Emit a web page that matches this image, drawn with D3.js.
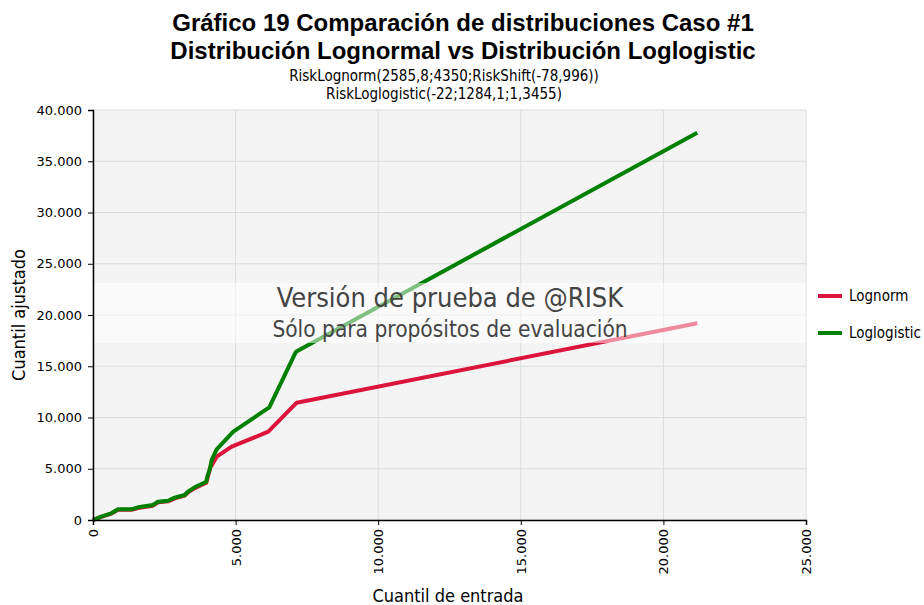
<!DOCTYPE html>
<html><head><meta charset="utf-8">
<script src="https://cdn.jsdelivr.net/npm/d3@7"></script>
<style>body{margin:0;background:#fff}</style>
</head><body>
<script>
const titleLines = ["Gráfico 19 Comparación de distribuciones Caso #1", "Distribución Lognormal vs Distribución Loglogistic"];
const subtitleLines = ["RiskLognorm(2585,8;4350;RiskShift(-78,996))", "RiskLoglogistic(-22;1284,1;1,3455)"];
const xTicks = [0, 5000, 10000, 15000, 20000, 25000];
const yTicks = [0, 5000, 10000, 15000, 20000, 25000, 30000, 35000, 40000];
const seriesNames = ["Lognorm", "Loglogistic"];
const seriesColors = ["#dc143c", "#008000"];
const lognormX = [0, 291, 642, 877, 1343, 1578, 2104, 2279, 2630, 2864, 3215, 3331, 3566, 3972, 4102, 4337, 4863, 6146, 7142, 21187];
const lognormY = [0, 300, 620, 1000, 990, 1170, 1400, 1720, 1820, 2110, 2380, 2700, 3110, 3640, 5044, 6176, 7151, 8615, 11444, 19190];
const loglogX = [0, 291, 642, 877, 1343, 1578, 2104, 2279, 2630, 2864, 3215, 3331, 3566, 3972, 4007, 4091, 4161, 4337, 4919, 6181, 7117, 21187];
const loglogY = [0, 322, 654, 1044, 1044, 1239, 1463, 1785, 1883, 2176, 2439, 2761, 3190, 3737, 4224, 4878, 5854, 6897, 8615, 10995, 16420, 37785];

const W = 924, H = 605;
const m = {l: 93, r: 806, t: 110, b: 520};
const svg = d3.select("body").append("svg").attr("width", W).attr("height", H);
const x = d3.scaleLinear().domain([0, 25000]).range([m.l, m.r]);
const y = d3.scaleLinear().domain([0, 40000]).range([m.b, m.t]);
const fmt = d => d3.format(",")(d).replace(/,/g, ".");

// plot background
svg.append("rect").attr("x", m.l).attr("y", m.t).attr("width", m.r - m.l).attr("height", m.b - m.t).attr("fill", "#f4f4f4");
// gridlines
svg.append("g").selectAll("line").data(yTicks).join("line")
  .attr("x1", m.l).attr("x2", m.r).attr("y1", d => y(d)).attr("y2", d => y(d))
  .attr("stroke", "#dcdcdc").attr("stroke-width", 1);
svg.append("g").selectAll("line").data(xTicks).join("line")
  .attr("y1", m.t).attr("y2", m.b).attr("x1", d => x(d)).attr("x2", d => x(d))
  .attr("stroke", "#dcdcdc").attr("stroke-width", 1);

// lines
const data = [d3.zip(lognormX, lognormY), d3.zip(loglogX, loglogY)];
svg.append("g").selectAll("path").data(data).join("path")
  .attr("d", d3.line().x(d => x(d[0])).y(d => y(d[1]))).attr("fill", "none")
  .attr("stroke", (d, i) => seriesColors[i]).attr("stroke-width", 4)
  .attr("stroke-linejoin", "round");

// watermark band
svg.append("rect").attr("x", m.l).attr("y", 283).attr("width", m.r - m.l).attr("height", 60)
  .attr("fill", "#fff").attr("opacity", 0.5);
svg.append("text").attr("x", 450).attr("y", 307).attr("text-anchor", "middle")
  .attr("font-family", "DejaVu Sans").attr("font-size", 27).attr("fill", "#444")
  .style("font-stretch", "condensed")
  .text("Versión de prueba de @RISK");
svg.append("text").attr("x", 450).attr("y", 337).attr("text-anchor", "middle")
  .attr("font-family", "DejaVu Sans").attr("font-size", 22.5).attr("fill", "#444")
  .style("font-stretch", "condensed")
  .text("Sólo para propósitos de evaluación");

// axes
const yAxis = svg.append("g").attr("transform", `translate(${m.l},0)`)
  .call(d3.axisLeft(y).tickValues(yTicks).tickFormat(fmt).tickSize(5).tickPadding(6));
const xAxis = svg.append("g").attr("transform", `translate(0,${m.b})`)
  .call(d3.axisBottom(x).tickValues(xTicks).tickFormat(fmt).tickSize(5).tickPadding(6));
[yAxis, xAxis].forEach(a => {
  a.select(".domain").attr("stroke", "#000").attr("stroke-width", 1.5);
  a.selectAll(".tick line").attr("stroke", "#000");
  a.selectAll("text").attr("font-family", "DejaVu Sans").attr("font-size", 13).attr("fill", "#000");
});
xAxis.selectAll("text").attr("transform", "rotate(-90)").attr("text-anchor", "end")
  .attr("x", -9).attr("y", 0).attr("dy", "0.35em");

// axis titles
svg.append("text").attr("transform", "translate(25,315) rotate(-90)").attr("text-anchor", "middle")
  .attr("font-family", "DejaVu Sans").attr("font-size", 18).style("font-stretch", "condensed")
  .text("Cuantil ajustado");
svg.append("text").attr("x", 448).attr("y", 602).attr("text-anchor", "middle")
  .attr("font-family", "DejaVu Sans").attr("font-size", 18).style("font-stretch", "condensed")
  .text("Cuantil de entrada");

// titles
svg.append("g").selectAll("text").data(titleLines).join("text")
  .attr("x", 463).attr("y", (d, i) => 31 + i * 28).attr("text-anchor", "middle")
  .attr("font-family", "Liberation Sans").attr("font-weight", "bold").attr("font-size", 24)
  .text(d => d);
svg.append("g").selectAll("text").data(subtitleLines).join("text")
  .attr("x", 444).attr("y", (d, i) => 81 + i * 18).attr("text-anchor", "middle")
  .attr("font-family", "DejaVu Sans").attr("font-size", 15).style("font-stretch", "condensed")
  .text(d => d);

// legend
const lg = svg.append("g").selectAll("g").data(seriesNames).join("g")
  .attr("transform", (d, i) => `translate(818,${296 + i * 37})`);
lg.append("line").attr("x1", 0).attr("x2", 24).attr("stroke", (d, i) => seriesColors[i]).attr("stroke-width", 4);
lg.append("text").attr("x", 31).attr("y", 5).attr("font-family", "DejaVu Sans").attr("font-size", 15)
  .style("font-stretch", "condensed").text(d => d);
</script>
</body></html>
